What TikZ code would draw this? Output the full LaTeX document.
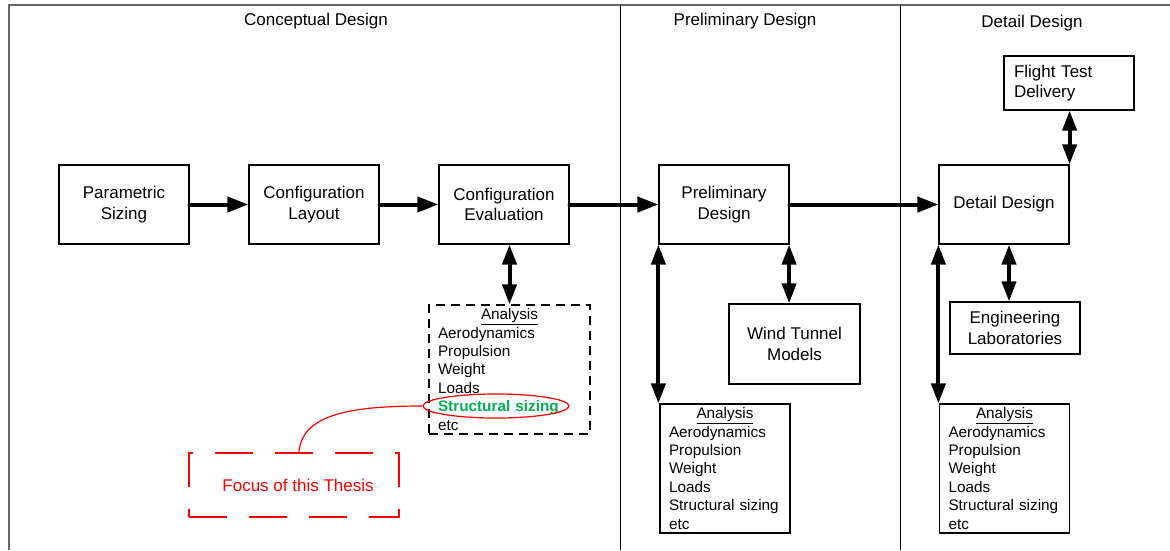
\documentclass[tikz,border=0pt]{standalone}
\usepackage{fontspec}
\setmainfont{Liberation Sans}
\usetikzlibrary{arrows.meta,shapes.geometric}
\definecolor{sgreen}{RGB}{0,176,80}
\newcommand{\boxfont}{\fontsize{17}{20.5}\selectfont}
\newcommand{\anfont}{\fontsize{15.3}{18.4}\selectfont}
\begin{document}
\begin{tikzpicture}[x=1pt,y=-1pt,
  blk/.style={draw, line width=1.2pt, minimum width=130pt, minimum height=79pt, align=center, font=\boxfont, inner sep=0pt},
  anbox/.style={draw, line width=1.2pt, minimum width=130pt, minimum height=129pt, text width=112pt, inner sep=0pt, align=left, font=\anfont},
  flow/.style={line width=4pt, -{Triangle[length=21pt,width=15pt]}, line cap=round},
  both/.style={line width=4pt, {Triangle[length=20pt,width=14pt]}-{Triangle[length=20pt,width=14pt]}},
  frame/.style={line width=1.5pt, black!60},
  sepline/.style={line width=1pt},
  hdr/.style={font=\boxfont}]
\useasboundingbox (0,0) rectangle (1170,550);
% frame and phase separators
\coordinate (fbl) at (9,550);
\coordinate (ftl) at (9,5);
\coordinate (ftr) at (1170,5);
\coordinate (s1t) at (620,5);
\coordinate (s1b) at (620,550);
\coordinate (s2t) at (900,5);
\coordinate (s2b) at (900,550);
\draw[frame] (fbl) -- (ftl) -- (ftr);
\draw[sepline] (s1t) -- (s1b);
\draw[sepline] (s2t) -- (s2b);
% headers
\node[hdr] (h1) at (316,21) {Conceptual Design};
\node[hdr] (h2) at (745,21) {Preliminary Design};
\node[hdr] (h3) at (1032,23) {Detail Design};
% main boxes
\node[blk] (ps) at (124,204.5) {Parametric\\Sizing};
\node[blk] (cl) at (314,204.5) {Configuration\\Layout};
\node[blk] (ce) at (504,204.5) {Configuration\\Evaluation};
\node[blk] (pd) at (724,204.5) {Preliminary\\Design};
\node[blk] (dd) at (1004,204.5) {Detail Design};
\node[blk, minimum height=54pt, text width=110pt, align=left] (ft) at (1069,83) {Flight Test\\Delivery};
\node[blk, minimum width=131pt, minimum height=80pt] (wt) at (794.5,344) {Wind Tunnel\\Models};
\node[blk, minimum height=52pt] (el) at (1015,328) {Engineering\\Laboratories};
% analysis boxes
\node[anbox, text width=143pt, minimum width=161pt, dash pattern=on 9pt off 6pt] (ca) at (509.5,369.5)
  {\makebox[143pt]{\underline{Analysis}}\\Aerodynamics\\Propulsion\\Weight\\Loads\\\textcolor{sgreen}{\textbf{Structural sizing}}\\etc};
\node[anbox] (pa) at (725,468.5)
  {\makebox[112pt]{\underline{Analysis}}\\Aerodynamics\\Propulsion\\Weight\\Loads\\Structural sizing\\etc};
\node[anbox] (da) at (1004.5,468.5)
  {\makebox[112pt]{\underline{Analysis}}\\Aerodynamics\\Propulsion\\Weight\\Loads\\Structural sizing\\etc};
% highlight
\node[ellipse, draw=red, line width=1.2pt, minimum width=146pt, minimum height=24pt, inner sep=0pt] (hl) at (496,406) {};
\node[draw=red, line width=2.2pt, dash pattern=on 38pt off 22pt, minimum width=210pt, minimum height=64pt, text=red, font=\boxfont] (fo) at (294,485) {\hspace*{8pt}Focus of this Thesis};
\draw[red, line width=1.2pt] ([xshift=5pt]fo.north) .. controls +(3,-38) and +(-70,0) .. (hl.west);
% flow arrows
\draw[flow] (ps.east) -- (cl.west);
\draw[flow] (cl.east) -- (ce.west);
\draw[flow] (ce.east) -- (pd.west);
\draw[flow] (pd.east) -- (dd.west);
% two-way arrows
\draw[both] (ca.north |- ce.south) -- (ca.north);
\draw[both] (pd.south west) -- (pd.south west |- pa.north);
\draw[both] ([xshift=-0.5pt]pd.south east) -- ([xshift=-0.5pt]pd.south east |- wt.north);
\draw[both] (dd.south west) -- (dd.south west |- da.north);
\draw[both] ([xshift=5pt]dd.south) -- ([xshift=5pt]dd.south |- el.north);
\draw[both] (dd.north east) -- (dd.north east |- ft.south);
\end{tikzpicture}
\end{document}
